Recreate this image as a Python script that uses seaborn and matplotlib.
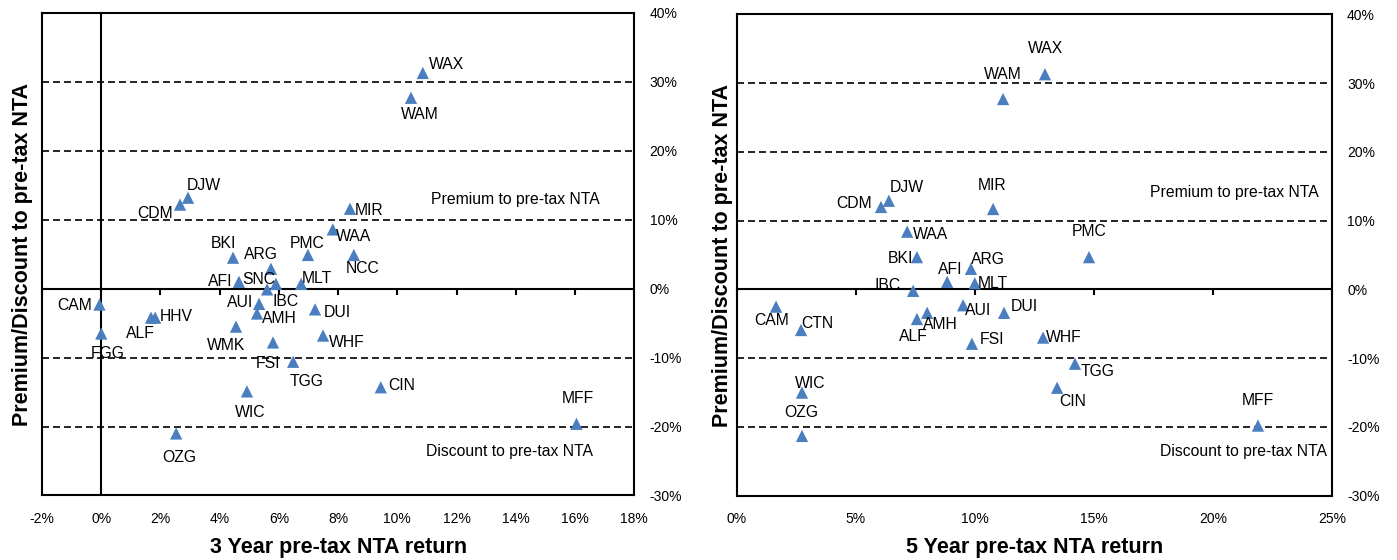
import matplotlib
matplotlib.use("Agg")
import matplotlib.pyplot as plt
import seaborn as sns
import pandas as pd

# 3 year panel
tickers_3y = ["WAX", "WAM", "DJW", "CDM", "MIR", "WAA", "BKI", "ARG", "PMC", "NCC",
              "AFI", "SNC", "IBC", "MLT", "AUI", "AMH", "DUI", "WMK", "WHF", "FSI",
              "TGG", "CIN", "WIC", "OZG", "MFF", "CAM", "FGG", "ALF", "HHV"]
ret_3y = [10.86, 10.46, 2.93, 2.66, 8.40, 7.82, 4.45, 5.73, 6.98, 8.53,
          4.65, 5.90, 5.60, 6.75, 5.33, 5.26, 7.22, 4.55, 7.49, 5.80,
          6.48, 9.44, 4.92, 2.53, 16.05, -0.06, 0.00, 1.68, 1.82]
prem_3y = [31.3, 27.7, 13.2, 12.2, 11.6, 8.6, 4.5, 2.9, 4.9, 4.9,
           1.0, 0.7, -0.1, 0.7, -2.2, -3.6, -3.0, -5.5, -6.8, -7.8,
           -10.6, -14.3, -14.9, -21.0, -19.6, -2.3, -6.5, -4.2, -4.2]

# 5 year panel
tickers_5y = ["WAX", "WAM", "DJW", "CDM", "MIR", "WAA", "BKI", "PMC", "ARG", "AFI",
              "MLT", "IBC", "AUI", "DUI", "AMH", "ALF", "FSI", "WHF", "TGG", "CIN",
              "MFF", "CAM", "CTN", "WIC", "OZG"]
ret_5y = [12.95, 11.19, 6.39, 6.06, 10.77, 7.16, 7.57, 14.80, 9.84, 8.84,
          10.00, 7.41, 9.51, 11.23, 8.00, 7.57, 9.88, 12.87, 14.21, 13.46,
          21.90, 1.65, 2.70, 2.74, 2.74]
prem_5y = [31.3, 27.7, 12.9, 12.0, 11.7, 8.4, 4.7, 4.7, 3.0, 1.1,
           0.9, -0.2, -2.3, -3.4, -3.4, -4.3, -7.9, -7.0, -10.8, -14.3,
           -19.8, -2.5, -5.9, -15.0, -21.3]

xticks_3y = list(range(-2, 19, 2))
xticks_5y = list(range(0, 26, 5))
yticks = list(range(-30, 41, 10))

# label offsets in pixels (right, down) from the marker
off_3y = {"WAX": (24, -9), "WAM": (9, 16), "DJW": (16, -13), "CDM": (-25, 8),
          "MIR": (19, 1), "WAA": (21, 6), "BKI": (-10, -15), "ARG": (-10, -15),
          "PMC": (-1, -12), "NCC": (9, 13), "AFI": (-19, -1), "SNC": (-17, -5),
          "IBC": (18, 11), "MLT": (16, -6), "AUI": (-19, -2), "AMH": (22, 4),
          "DUI": (22, 2), "WMK": (-10, 18), "WHF": (24, 6), "FSI": (-5, 20),
          "TGG": (13, 19), "CIN": (21, -3), "WIC": (3, 20), "OZG": (3, 23),
          "MFF": (1, -26), "CAM": (-25, 0), "FGG": (6, 19), "ALF": (-11, 15),
          "HHV": (21, -2)}
off_5y = {"WAX": (1, -27), "WAM": (0, -26), "DJW": (18, -14), "CDM": (-27, -4),
          "MIR": (-1, -25), "WAA": (23, 2), "BKI": (-17, 0), "PMC": (0, -27),
          "ARG": (17, -10), "AFI": (3, -13), "MLT": (18, -1), "IBC": (-26, -6),
          "AUI": (15, 4), "DUI": (20, -7), "AMH": (13, 11), "ALF": (-4, 16),
          "FSI": (20, -5), "WHF": (21, -1), "TGG": (23, 7), "CIN": (16, 13),
          "MFF": (0, -26), "CAM": (-4, 13), "CTN": (16, -8), "WIC": (8, -10),
          "OZG": (-1, -24)}

MARKER = "#4a7ebf"

sns.set_theme(style="white")
plt.rcParams['font.family'] = ['Liberation Sans', 'DejaVu Sans']

fig = plt.figure(figsize=(13.97, 5.6), dpi=100)
ax1 = fig.add_axes([0.0301, 0.1152, 0.4239, 0.8616])
ax2 = fig.add_axes([0.5274, 0.1148, 0.4259, 0.8594])


def draw_panel(ax, tickers, rets, prems, offsets, xticks, xlabel, prem_pos, disc_pos, vline):
    df = pd.DataFrame({"ticker": tickers, "ret": rets, "prem": prems})
    ax.set_xlim(xticks[0], xticks[-1])
    ax.set_ylim(yticks[0], yticks[-1])

    for lvl in yticks[1:-1]:
        if lvl == 0:
            ax.axhline(0, color="black", lw=1.5, zorder=2)
        else:
            ax.axhline(lvl, color="black", lw=1.2, dashes=(4.2, 2.4), zorder=1)
    if vline:
        ax.axvline(0, color="black", lw=1.5, zorder=2)

    sns.scatterplot(data=df, x="ret", y="prem", ax=ax, marker="^", s=78,
                    color=MARKER, edgecolor="none", linewidth=0, zorder=3, legend=False)

    for _, r in df.iterrows():
        dx, dy = offsets[r["ticker"]]
        ax.annotate(r["ticker"], (r["ret"], r["prem"]), xytext=(dx, -dy - 1),
                    textcoords="offset pixels", ha="center", va="center",
                    fontsize=11.3, color="black", zorder=4)

    ax.text(prem_pos[0], prem_pos[1], "Premium to pre-tax NTA", ha="center", va="center",
            fontsize=11.3, color="black")
    ax.text(disc_pos[0], disc_pos[1], "Discount to pre-tax NTA", ha="center", va="center",
            fontsize=11.3, color="black")

    ax.set_xticks(xticks)
    ax.set_xticklabels([f"{v}%" for v in xticks])
    ax.set_yticks(yticks)
    ax.set_yticklabels([f"{v}%" for v in yticks])
    ax.yaxis.tick_right()
    ax.tick_params(axis="x", length=0, pad=12, labelsize=10, colors="black")
    ax.tick_params(axis="y", length=0, pad=11, labelsize=10, colors="black")

    # tick marks along the zero line
    zero = ax.secondary_xaxis((0 - yticks[0]) / (yticks[-1] - yticks[0]))
    zero.set_xticks(xticks)
    zero.tick_params(direction="out", length=4, width=1.5, color="black", labelbottom=False)
    zero.spines["bottom"].set_visible(False)

    for sp in ax.spines.values():
        sp.set_color("black")
        sp.set_linewidth(1.5)

    ax.set_xlabel(xlabel, fontsize=15.5, fontweight="bold", color="black")
    ax.set_ylabel("Premium/Discount to pre-tax NTA", fontsize=15.5, fontweight="bold",
                  color="black")
    ax.xaxis.set_label_coords(0.5, -0.086)
    ax.xaxis.label.set_va("top")


draw_panel(ax1, tickers_3y, ret_3y, prem_3y, off_3y, xticks_3y,
           "3 Year pre-tax NTA return", (14.0, 13.0), (13.8, -23.6), True)
draw_panel(ax2, tickers_5y, ret_5y, prem_5y, off_5y, xticks_5y,
           "5 Year pre-tax NTA return", (20.9, 14.1), (21.3, -23.6), False)

ax1.yaxis.set_label_coords(-0.015, 0.5)
ax2.yaxis.set_label_coords(-0.007, 0.5)

fig.savefig("out.png", dpi=100)
